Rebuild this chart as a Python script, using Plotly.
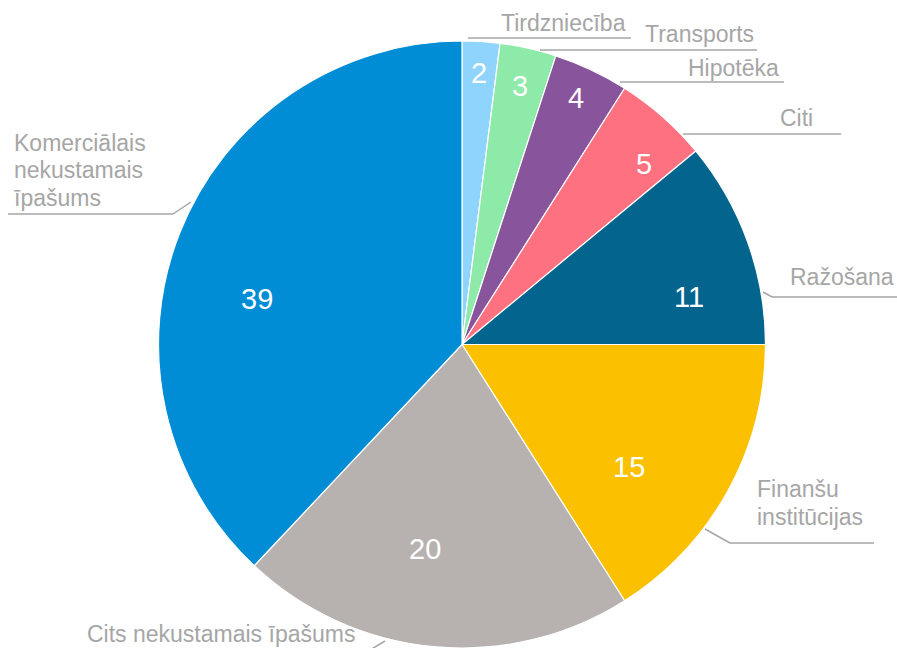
import math
import plotly.graph_objects as go

# ---- data ----
categories = ["Tirdzniecība", "Transports", "Hipotēka", "Citi", "Ražošana",
              "Finanšu institūcijas", "Cits nekustamais īpašums",
              "Komerciālais nekustamais īpašums"]
# value labels printed on the slices
values = [2, 3, 4, 5, 11, 15, 20, 39]
# slice sizes (% of the circle)
slice_shares = [2, 3, 4, 5, 11, 16, 21, 38]
colors = ["#8fd4fd", "#8eeaa8", "#88559c", "#fe7181", "#03648e",
          "#fbc000", "#b7b2af", "#008dd5"]

W, H = 897, 648
FONT = "Liberation Sans, Arial, Helvetica, sans-serif"
LINE_GAP = 27.5

def px(x):
    return x / W

def py(y):
    return 1 - y / H

# ---- pie geometry (pixels) ----
cx, cy, R = 462, 344.5, 303.5

# ---- layout: category labels ----
label_lines = {
    "Tirdzniecība": ["Tirdzniecība"],
    "Transports": ["Transports"],
    "Hipotēka": ["Hipotēka"],
    "Citi": ["Citi"],
    "Ražošana": ["Ražošana"],
    "Finanšu institūcijas": ["Finanšu", "institūcijas"],
    "Cits nekustamais īpašums": ["Cits nekustamais īpašums"],
    "Komerciālais nekustamais īpašums": ["Komerciālais", "nekustamais", "īpašums"],
}
# (x, middle y of first line, xanchor)
label_pos = {
    "Tirdzniecība": (627, 23.5, "right"),
    "Transports": (755, 34, "right"),
    "Hipotēka": (780, 68.5, "right"),
    "Citi": (814, 118, "right"),
    "Ražošana": (895, 277, "right"),
    "Finanšu institūcijas": (756, 489, "left"),
    "Cits nekustamais īpašums": (86, 634, "left"),
    "Komerciālais nekustamais īpašums": (13, 142.5, "left"),
}
leaders = {
    "Tirdzniecība": [(468, 38), (631, 38)],
    "Transports": [(540, 50), (757, 50)],
    "Hipotēka": [(620, 82), (784, 82)],
    "Citi": [(683, 134), (841, 134)],
    "Ražošana": [(763, 292), (772, 297), (897, 297)],
    "Finanšu institūcijas": [(705, 529), (730, 543), (874, 543)],
    "Cits nekustamais īpašums": [(385, 641), (370, 650)],
    "Komerciālais nekustamais īpašums": [(191, 202), (173, 214), (8, 214)],
}
# value label placement: (fraction of radius, angular nudge in degrees)
value_place = [(0.897, 0.0), (0.872, 0.0), (0.895, -0.5), (0.843, 3.8),
               (0.764, 8.0), (0.681, 7.5), (0.683, 4.8), (0.692, -9.0)]

fig = go.Figure(go.Pie(
    labels=categories,
    values=slice_shares,
    customdata=values,
    marker=dict(colors=colors, line=dict(color="white", width=1.2)),
    sort=False,
    direction="clockwise",
    rotation=0,
    textinfo="none",
    showlegend=False,
    hovertemplate="%{label}: %{customdata}<extra></extra>",
    domain=dict(x=[px(cx - R), px(cx + R)], y=[max(0, py(cy + R)), py(cy - R)]),
))

annotations = []
shapes = []

# value labels at angles derived from the slice data
total = sum(slice_shares)
cum = 0
for v, share, (rf, nudge) in zip(values, slice_shares, value_place):
    mid = (cum + share / 2) / total * 360 + nudge
    cum += share
    th = math.radians(mid)
    x = cx + rf * R * math.sin(th)
    y = cy - rf * R * math.cos(th)
    annotations.append(dict(
        x=px(x), y=py(y), xref="paper", yref="paper", text=str(v),
        showarrow=False, xanchor="center", yanchor="middle",
        font=dict(size=29, color="white", family=FONT),
    ))

for cat in categories:
    x, y0, xa = label_pos[cat]
    for i, line in enumerate(label_lines[cat]):
        annotations.append(dict(
            x=px(x), y=py(y0 + i * LINE_GAP), xref="paper", yref="paper",
            text=line, showarrow=False, xanchor=xa, yanchor="middle",
            font=dict(size=23, color="#a6a6a6", family=FONT),
            borderpad=0,
        ))
    pts = leaders[cat]
    for (xa0, ya0), (xa1, ya1) in zip(pts[:-1], pts[1:]):
        shapes.append(dict(type="line", xref="paper", yref="paper",
                           x0=px(xa0), y0=py(ya0), x1=px(xa1), y1=py(ya1),
                           line=dict(color="#a6a6a6", width=1.5)))

fig.update_layout(
    width=W, height=H,
    margin=dict(l=0, r=0, t=0, b=0),
    paper_bgcolor="white",
    plot_bgcolor="white",
    annotations=annotations,
    shapes=shapes,
)

fig.write_html("out.html",
               config={"displayModeBar": False},
               post_script="document.body.style.margin='0';document.body.style.overflow='hidden';")
